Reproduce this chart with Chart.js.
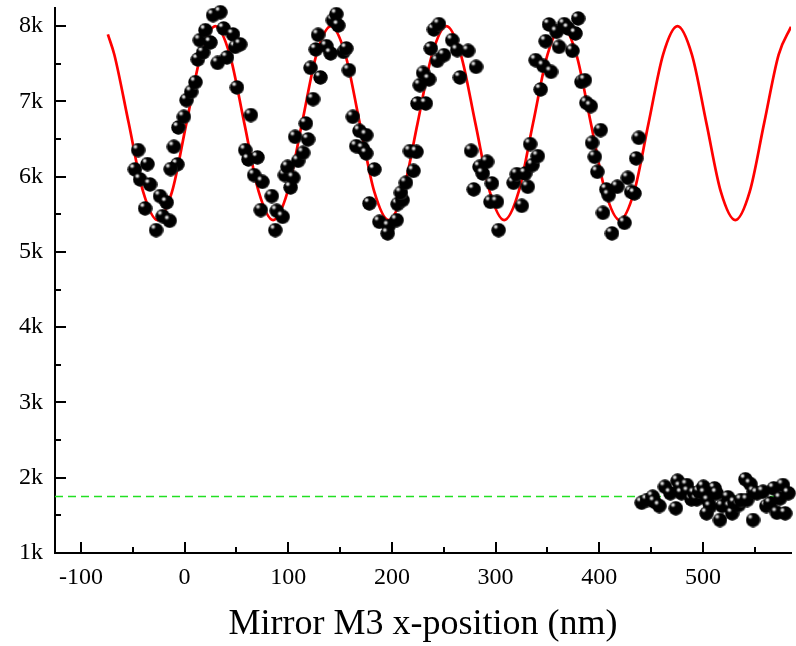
<!DOCTYPE html>
<html>
<head>
<meta charset="utf-8">
<script src="https://cdn.jsdelivr.net/npm/chart.js@4"></script>
<style>
  html, body { margin: 0; padding: 0; background: #fff; }
</style>
</head>
<body>
<canvas id="myChart" width="796" height="646"></canvas>
<script>
// red fit curve, every 1/8 period
let curveX = [-74, -67.8, -53.9, -40.0, -26.0, -12.1, 1.8, 15.8, 29.7, 43.6, 57.6, 71.5, 85.4, 99.4,
    113.3, 127.2, 141.2, 155.1, 169.0, 183.0, 196.9, 210.8, 224.8, 238.7, 252.6, 266.5, 280.5,
    294.4, 308.3, 322.3, 336.2, 350.1, 364.1, 378.0, 391.9, 405.9, 419.8, 433.7, 447.6, 461.6,
    475.5, 489.4, 503.4, 517.3, 531.3, 545.2, 559.1, 573.1, 585];
let curveY = [7890, 7622, 6711, 5800, 5422, 5800, 6711, 7622, 8000, 7622, 6711, 5800, 5422, 5800,
    6711, 7622, 8000, 7622, 6711, 5800, 5422, 5800, 6711, 7622, 8000, 7622, 6711,
    5800, 5422, 5800, 6711, 7622, 8000, 7622, 6711, 5800, 5422, 5800, 6711, 7622,
    8000, 7622, 6711, 5800, 5422, 5800, 6711, 7622, 7990];

// green dashed background level
let levelX = [-125, 585];
let levelY = [1750, 1750];

// measured points, signal
let upperX = [-44.8, -35.8, -47.9, -42.9, -33.3, -23.7, -17.3, -38.1, -21.1, -14.4, -27.5, -10.3, -7.0, -13.4,
    -6.0, -0.7, 1.9, 6.4, 10.5, 12.8, 17.9, 14.7, 20.1, 24.9, 27.5, 34.5, 31.9, 37.7, 46.7, 48.9, 40.9, 50.5,
    53.7, 63.9, 58.5, 61.6, 70.3, 67.1, 75.1, 84.1, 73.5, 88.9, 94.6, 87.5, 96.8, 99.4, 104.8, 102.3,
    109.6, 114.4, 106.7, 119.2, 117.0, 124.0, 131.1, 121.5, 126.6, 128.8, 136.8, 140.9, 143.1, 146.4,
    148.3, 153.4, 156.0, 158.5, 162.3, 168.7, 175.2, 165.6, 171.9, 175.2, 178.3,
    183.1, 187.9, 196.8, 195.9, 204.5, 205.5, 210.3, 208.7, 213.5, 220.8, 217.4, 223.7, 224.6, 232.7,
    226.9, 230.1, 235.9, 237.5, 240.6, 245.4, 243.8, 250.2, 258.2, 263.0, 273.5, 281.2, 265.6, 276.4,
    284.5, 291.8, 287.6, 279.0, 296.5, 295.0, 301.3, 302.9,
    325.3, 317.4, 320.5, 328.6, 331.1, 335.6, 340.7, 333.4, 343.5, 338.7, 346.1, 353.5, 348.3, 351.6,
    358.9, 361.2, 366.2, 370.1, 377.1, 379.7, 374.2, 382.8, 386.1, 387.6, 391.8, 401.4, 393.1, 395.7,
    398.2, 406.8, 409.1, 417.4, 427.6, 403.6, 412.3, 424.4, 430.8, 434.0, 435.6, 438.2];
let upperY = [6352, 6166, 6096, 5963, 5896, 5741, 5657, 5578, 5475, 5413, 5289, 6396, 6162, 6100,
    6653, 6794, 7016, 7126, 7255, 7556, 7649, 7813, 7945, 7782, 8145, 8184, 7511, 7968, 7888, 7724, 7583, 7184,
    7756, 6817, 6352, 6228, 6255, 6020, 5931, 5741, 5555, 5546, 5466, 5289, 6020, 6130, 5984, 5856,
    6210, 6316, 6528, 6494, 6706, 7029, 7317, 7445, 7689, 7883, 7733, 7636, 8078, 8158,
    8008, 7657, 7702, 7414, 6794, 6608, 6551, 6405, 6374, 6308, 5644,
    6096, 5400, 5343, 5246, 5422, 5635, 5688, 5785, 5918, 6077, 6339, 6329, 6972, 6972,
    7215, 7378, 7291, 7702, 7955, 8025, 7538, 7613, 7813, 7680, 7671, 7458, 7317, 6343,
    6130, 6197, 6042, 5830, 5910, 5665, 5665, 5289,
    5612, 5918, 6033, 6042, 5865, 6153, 6272, 6432, 7158, 7547, 7471, 7392, 7799, 8021,
    7923, 7724, 8025, 7968, 7902, 8101, 7671, 7259, 7281, 6980, 6936, 6617, 6449, 6263,
    6064, 5830, 5754, 5865, 5984, 5519, 5246, 5386, 5798, 5777, 6242, 6515];

// measured points, background
let lowerX = [441.0, 446.1, 451.6, 453.2, 458.0, 463.4, 468.6, 473.9, 475.6, 478.1, 479.4, 484.5, 485.8,
    489.0, 491.6, 494.1, 496.4, 500.5, 501.7, 505.0, 506.9, 503.6, 511.3, 513.2, 516.5, 518.7, 524.2,
    526.1, 528.3, 530.5, 534.7, 536.9, 541.0, 545.8, 542.7, 549.1, 548.4, 552.3, 558.0, 561.2, 565.0,
    568.3, 574.6, 571.4, 577.2, 579.4, 582.6];
let lowerY = [1668, 1704, 1748, 1681, 1624, 1880, 1793, 1594, 1960, 1880, 1793, 1903, 1814,
    1713, 1793, 1713, 1814, 1880, 1793, 1695, 1615, 1527, 1859, 1793, 1438, 1624, 1740,
    1615, 1527, 1668, 1637, 1704, 1979, 1916, 1704, 1814, 1438, 1793, 1814, 1624, 1660,
    1859, 1726, 1535, 1903, 1527, 1793];

let xTicks = [-100, 0, 100, 200, 300, 400, 500];
let xMinor = [-50, 50, 150, 250, 350, 450, 550];
let yTicks = [1000, 2000, 3000, 4000, 5000, 6000, 7000, 8000];
let yMinor = [1500, 2500, 3500, 4500, 5500, 6500, 7500];
let yTickLabels = ['1k', '2k', '3k', '4k', '5k', '6k', '7k', '8k'];

const pairs = (xs, ys) => xs.map((x, i) => ({x: x, y: ys[i]}));

// shaded black ball used as marker
function makeSphere(d) {
    const c = document.createElement('canvas');
    c.width = d;
    c.height = d;
    const g = c.getContext('2d');
    const r = d / 2;
    const disc = () => { g.beginPath(); g.arc(r, r, r - 0.3, 0, Math.PI * 2); g.fill(); };
    g.fillStyle = '#000';
    disc();
    // faint rim light on the lower right
    const rim = g.createRadialGradient(r * 0.8, r * 0.8, 0, r * 0.8, r * 0.8, r * 1.25);
    rim.addColorStop(0, 'rgba(0,0,0,0)');
    rim.addColorStop(0.75, 'rgba(0,0,0,0)');
    rim.addColorStop(1, 'rgba(90,90,90,0.9)');
    g.fillStyle = rim;
    disc();
    // small specular spot upper left
    const spot = g.createRadialGradient(r * 0.62, r * 0.55, 0, r * 0.62, r * 0.55, r * 0.45);
    spot.addColorStop(0, 'rgba(255,255,255,1)');
    spot.addColorStop(0.35, 'rgba(215,215,215,0.85)');
    spot.addColorStop(1, 'rgba(0,0,0,0)');
    g.fillStyle = spot;
    disc();
    return c;
}
let ball = makeSphere(15);

// ticks pointing into the plot
const inwardTicks = {
    id: 'inwardTicks',
    afterDraw(chart) {
        const {ctx, chartArea: a, scales: {x, y}} = chart;
        ctx.save();
        ctx.strokeStyle = '#000';
        ctx.lineWidth = 2;
        ctx.beginPath();
        xTicks.forEach(v => { const p = Math.round(x.getPixelForValue(v)); ctx.moveTo(p, a.bottom); ctx.lineTo(p, a.bottom - 11); });
        xMinor.forEach(v => { const p = Math.round(x.getPixelForValue(v)); ctx.moveTo(p, a.bottom); ctx.lineTo(p, a.bottom - 6); });
        yTicks.forEach(v => { const p = Math.round(y.getPixelForValue(v)); ctx.moveTo(a.left, p); ctx.lineTo(a.left + 11, p); });
        yMinor.forEach(v => { const p = Math.round(y.getPixelForValue(v)); ctx.moveTo(a.left, p); ctx.lineTo(a.left + 6, p); });
        ctx.stroke();
        ctx.restore();
    }
};

const serif = 'Liberation Serif, Times New Roman, serif';

let ctx = document.getElementById('myChart').getContext('2d');
let chart = new Chart(ctx, {
    type: 'scatter',
    data: {
        datasets: [
            {
                label: 'background',
                data: pairs(lowerX, lowerY),
                pointStyle: ball,
                clip: false
            },
            {
                label: 'signal',
                data: pairs(upperX, upperY),
                pointStyle: ball,
                clip: false
            },
            {
                label: 'fit',
                data: pairs(curveX, curveY),
                showLine: true,
                borderColor: '#ff0000',
                borderWidth: 2.7,
                pointRadius: 0,
                cubicInterpolationMode: 'monotone',
                fill: false
            },
            {
                label: 'level',
                data: pairs(levelX, levelY),
                showLine: true,
                borderColor: '#22e022',
                borderWidth: 1.5,
                borderDash: [8, 5],
                pointRadius: 0,
                fill: false
            }
        ]
    },
    options: {
        responsive: false,
        animation: false,
        devicePixelRatio: 1,
        layout: { padding: { top: 8, right: 1, left: 0, bottom: 0 } },
        plugins: {
            legend: { display: false },
            tooltip: { enabled: false }
        },
        scales: {
            x: {
                type: 'linear',
                min: -125,
                max: 585,
                afterBuildTicks: s => { s.ticks = xTicks.map(v => ({value: v})); },
                afterFit: s => { s.height = 93; s.paddingLeft = 0; s.paddingRight = 0; },
                grid: { drawOnChartArea: false, drawTicks: false },
                border: { display: true, color: '#000', width: 2 },
                ticks: {
                    color: '#000',
                    padding: 10,
                    maxRotation: 0,
                    font: { family: serif, size: 24 }
                },
                title: {
                    display: true,
                    text: 'Mirror M3 x-position (nm)',
                    color: '#000',
                    font: { family: serif, size: 36 },
                    padding: { top: 0, bottom: 0 }
                }
            },
            y: {
                type: 'linear',
                min: 1000,
                max: 8240,
                afterBuildTicks: s => { s.ticks = yTicks.map(v => ({value: v})); },
                afterFit: s => { s.width = 55; s.paddingTop = 0; s.paddingBottom = 0; },
                grid: { drawOnChartArea: false, drawTicks: false },
                border: { display: true, color: '#000', width: 2 },
                ticks: {
                    color: '#000',
                    padding: 12,
                    font: { family: serif, size: 24 },
                    callback: v => yTickLabels[yTicks.indexOf(v)]
                }
            }
        }
    },
    plugins: [inwardTicks]
});
</script>
</body>
</html>
